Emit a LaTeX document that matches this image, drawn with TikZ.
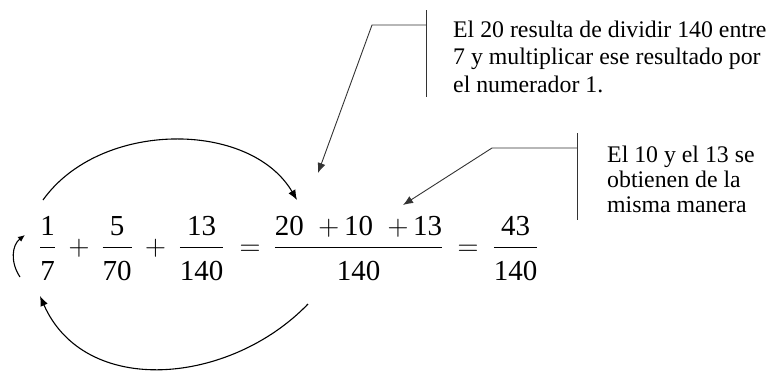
\documentclass[tikz,border=0pt]{standalone}
\usepackage{fix-cm}
\usepackage{amsmath}
\usepackage{fontspec}
\setmainfont{Liberation Serif}
\usetikzlibrary{arrows.meta}
\setlength{\nulldelimiterspace}{2.5pt}
\newcommand{\dn}{\rule{0pt}{1em}}
\newcommand{\fr}[2]{\dfrac{\text{#1}}{\dn\text{#2}}}

\begin{document}
\begin{tikzpicture}[x=1pt,y=-1pt,>={Latex[length=10pt,width=8pt]},
    mth/.style={inner sep=0pt,anchor=base,font=\fontsize{29}{35}\selectfont},
    note/.style={inner sep=0pt,anchor=base west,align=left,font=\fontsize{23.8}{27.5}\selectfont},
    arc/.style={line width=1.1pt},
    call/.style={line width=0.9pt,black!80}]
    \useasboundingbox (0,0) rectangle (781,370);
    % la suma de fracciones
    \node[mth] (f1) at (47.5,255) {$\fr{1}{7}$};
    \node[mth] (plA) at (79,255) {$+$};
    \node[mth] (f2) at (117,255) {$\fr{5}{70}$};
    \node[mth] (plB) at (155.5,255) {$+$};
    \node[mth] (f3) at (201.5,255) {$\fr{13}{140}$};
    \node[mth] (eqA) at (250,255) {$=$};
    \node[mth] (fsum) at (358.5,255) {$\fr{20\enspace{$+$}\,10\enspace{$+$}\,13}{140}$};
    \node[mth] (eqB) at (468,255) {$=$};
    \node[mth] (fres) at (515.5,255) {$\fr{43}{140}$};
    % flechas curvas
    \coordinate (topS) at (43,200);  \coordinate (topE) at (297,200);
    \coordinate (botS) at (308,304); \coordinate (botE) at (40,296);
    \coordinate (smS) at (20,277);   \coordinate (smE) at (25,235);
    \draw[arc,->] (topS) .. controls (100,120) and (250,120) .. (topE);
    \draw[arc,->] (botS) .. controls (230,385) and (85,398) .. (botE);
    \draw[arc,-{Latex[length=7pt,width=6pt]}] (smS) .. controls (10,262) and (12,245) .. (smE);
    % llamadas
    \node[note] (n1) at (453,92) {El 20 resulta de dividir 140 entre\\7 y multiplicar ese resultado por\\el numerador 1.};
    \node[note,font=\fontsize{23.8}{25}\selectfont] (n2) at (607,212) {El 10 y el 13 se\\obtienen de la\\misma manera};
    \coordinate (k1) at (372,25);  \coordinate (t1) at (318,173);
    \coordinate (k2) at (492,148); \coordinate (t2) at (403,205);
    \draw[call] (426,10) -- (426,97);
    \draw[call,->] (426,25) -- (k1) -- (t1);
    \draw[call] (577,133) -- (577,220);
    \draw[call,->] (577,148) -- (k2) -- (t2);
\end{tikzpicture}
\end{document}
